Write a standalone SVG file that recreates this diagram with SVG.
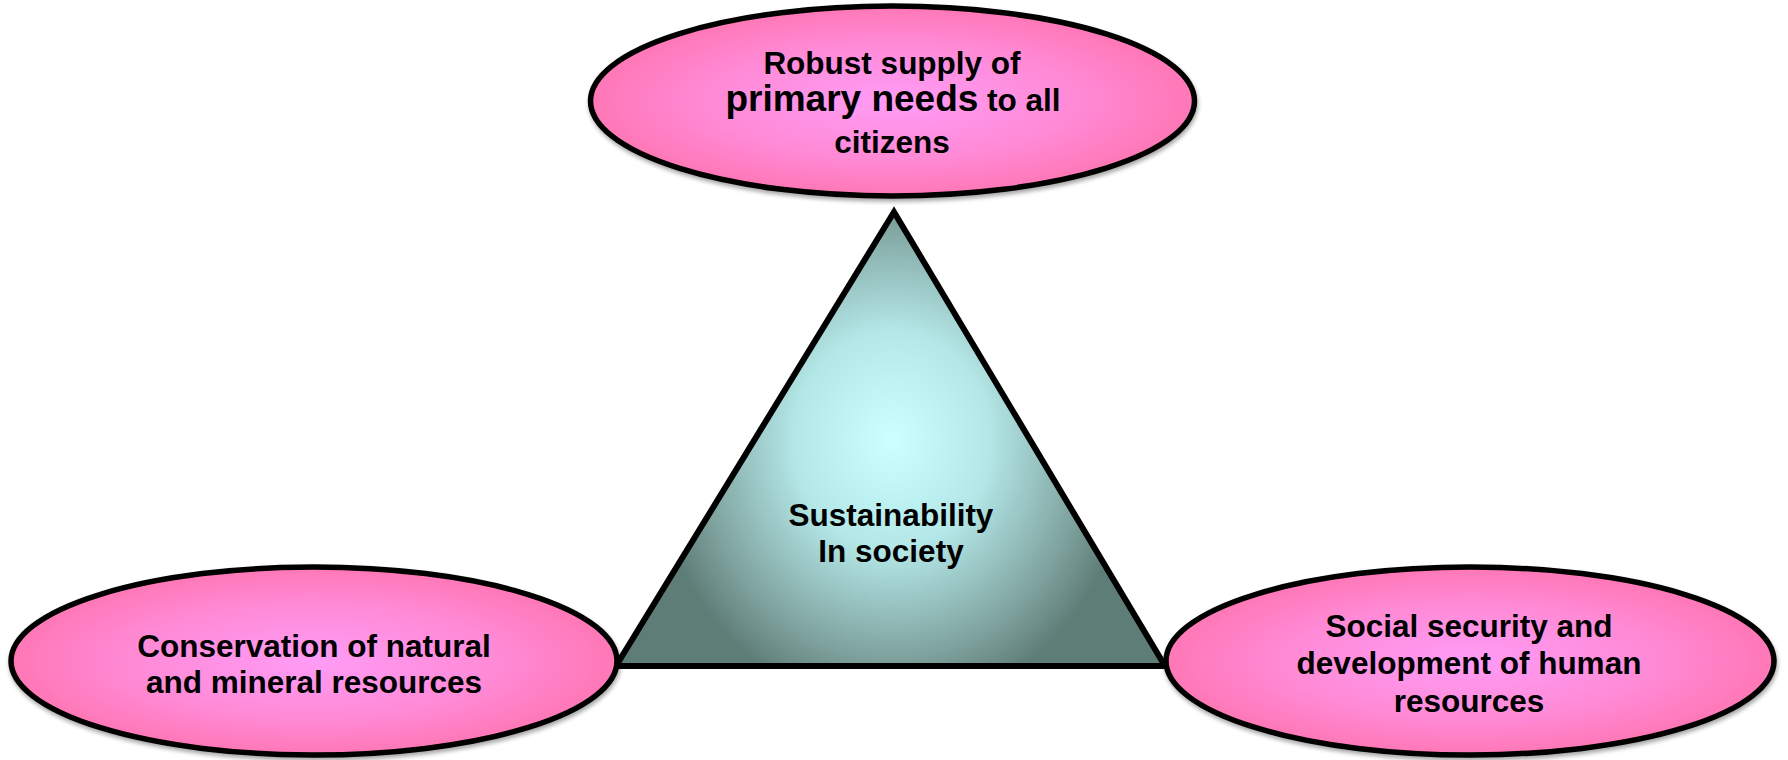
<svg xmlns="http://www.w3.org/2000/svg" width="1788" height="760" viewBox="0 0 1788 760">
<style>
.ell{fill:url(#pink);stroke:#000;stroke-width:5.5}
.tri{fill:url(#teal);stroke:#000;stroke-width:6;stroke-linejoin:miter}
text{font-family:"Liberation Sans",Arial,sans-serif;font-weight:bold;font-size:31.5px;fill:#000;text-anchor:middle}
.big{font-size:37px}
</style>
<defs>
<radialGradient id="pink" cx="0.5" cy="0.5" r="0.5">
<stop offset="0" stop-color="#FF9CF6"/>
<stop offset="0.6" stop-color="#FF8AD6"/>
<stop offset="1" stop-color="#FF77B6"/>
</radialGradient>
<radialGradient id="teal" gradientUnits="userSpaceOnUse" cx="0" cy="0" r="1" gradientTransform="translate(892 440) scale(240 270)">
<stop offset="0" stop-color="#CCFFFF"/>
<stop offset="0.4" stop-color="#B4E8E8"/>
<stop offset="0.8" stop-color="#7FA39F"/>
<stop offset="1" stop-color="#5F7D77"/>
</radialGradient>
<filter id="sh" x="-10%" y="-10%" width="120%" height="130%">
<feGaussianBlur in="SourceAlpha" stdDeviation="2"/>
<feOffset dx="1" dy="3" result="b"/>
<feComponentTransfer><feFuncA type="linear" slope="0.35"/></feComponentTransfer>
<feMerge><feMergeNode/><feMergeNode in="SourceGraphic"/></feMerge>
</filter>
</defs>
<g id="connectors"></g>
<g id="center">
<polygon class="tri" points="894,212 616,666 1165,666"/>
<text x="891" y="526">Sustainability</text>
<text x="891" y="562">In society</text>
</g>
<g id="top">
<ellipse class="ell" filter="url(#sh)" cx="892.5" cy="101" rx="302" ry="95"/>
<text x="892" y="74">Robust supply of</text>
<text x="893" y="111"><tspan class="big">primary needs</tspan> to all</text>
<text x="892" y="153">citizens</text>
</g>
<g id="left">
<ellipse class="ell" filter="url(#sh)" cx="314" cy="661" rx="303" ry="94"/>
<text x="314" y="657">Conservation of natural</text>
<text x="314" y="693">and mineral resources</text>
</g>
<g id="right">
<ellipse class="ell" filter="url(#sh)" cx="1470" cy="661" rx="304" ry="94"/>
<text x="1469" y="637">Social security and</text>
<text x="1469" y="674">development of human</text>
<text x="1469" y="712">resources</text>
</g>
</svg>
